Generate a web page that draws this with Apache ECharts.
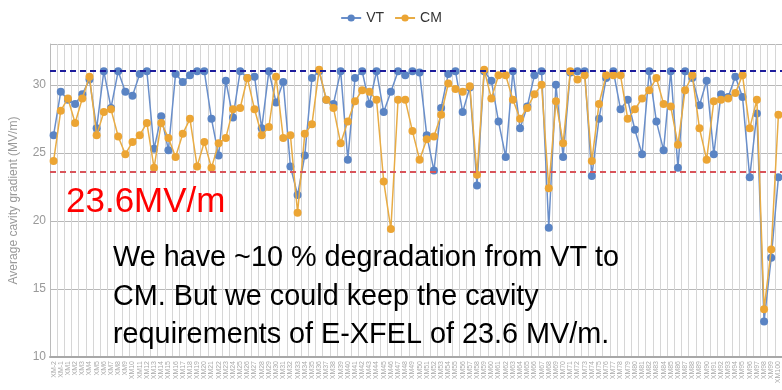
<!DOCTYPE html>
<html>
<head>
<meta charset="utf-8">
<script src="https://cdn.jsdelivr.net/npm/echarts@6/dist/echarts.min.js"></script>
<style>
html,body{margin:0;padding:0;background:#fff;}
#chart{width:782px;height:390px;}
</style>
</head>
<body>
<div id="chart"></div>
<script>
const categories = ['XM-2','XM-1','XM1','XM2','XM3','XM4','XM5','XM6','XM7','XM8','XM9','XM10',
'XM11','XM12','XM13','XM14','XM15','XM16','XM17','XM18','XM19','XM20',
'XM21','XM22','XM23','XM24','XM25','XM26','XM27','XM28','XM29','XM30',
'XM31','XM32','XM33','XM34','XM35','XM36','XM37','XM38','XM39','XM40',
'XM41','XM42','XM43','XM44','XM45','XM46','XM47','XM48','XM49','XM50',
'XM51','XM52','XM53','XM54','XM55','XM56','XM57','XM58','XM59','XM60',
'XM61','XM62','XM63','XM64','XM65','XM66','XM67','XM68','XM69','XM70',
'XM71','XM72','XM73','XM74','XM75','XM76','XM77','XM78','XM79','XM80',
'XM81','XM82','XM83','XM84','XM85','XM86','XM87','XM88','XM89','XM90',
'XM91','XM92','XM93','XM94','XM95','XM96','XM97','XM98','XM99','XM100'];

const vtValues = [26.3,29.5,28.9,28.6,29.3,30.4,26.8,31.0,28.3,31.0,
29.5,29.2,30.8,31.0,25.3,27.7,25.2,30.8,30.2,30.7,
31.0,31.0,27.5,24.8,30.3,27.6,31.0,30.5,30.6,26.8,
31.0,28.7,30.2,24.0,21.9,24.8,30.5,31.0,28.9,28.6,
31.0,24.5,30.5,31.0,28.6,31.0,28.0,29.5,31.0,30.7,
31.0,30.9,26.3,23.7,28.3,30.8,31.0,28.0,29.8,22.6,
31.0,30.3,27.3,24.7,31.0,26.8,28.4,30.7,31.0,19.5,
30.0,24.7,30.9,31.0,31.0,23.3,27.5,30.5,31.0,28.2,
28.9,26.7,24.9,31.0,27.3,25.2,31.0,23.9,31.0,30.5,
28.5,30.3,24.9,29.3,29.1,30.6,29.1,23.2,27.9,12.6,
17.3,23.2];

const cmValues = [24.4,28.1,29.0,27.2,29.0,30.6,26.3,28.0,28.2,26.2,
24.9,25.8,26.3,27.2,23.9,27.2,26.1,24.7,26.4,27.5,
24.0,25.8,23.9,25.7,26.1,28.2,28.3,30.5,28.2,26.3,
26.9,30.6,26.1,26.3,20.6,26.4,27.1,31.1,28.9,28.3,
25.7,27.3,28.8,29.6,29.5,28.9,22.9,19.4,28.9,28.9,
26.6,24.5,26.0,26.2,27.8,30.1,29.7,29.5,29.9,23.4,
31.1,29.0,30.7,30.7,28.9,27.5,28.3,29.3,30.0,22.4,
28.8,25.7,31.0,30.4,30.7,24.4,28.6,30.7,30.7,30.7,
27.5,28.2,29.0,29.6,30.5,28.6,28.4,25.6,29.6,30.7,
26.8,24.5,28.8,28.9,29.0,29.4,30.7,26.8,28.9,13.5,
17.9,27.8];

const vtLevel = 31.0;
const xfelSpec = 23.6;
const yMin = 10, yMax = 33, yStep = 5;

const seriesNames = ['VT', 'CM'];
const specLabel = '23.6MV/m';
const noteLines = ['We have ~10 % degradation from VT to',
                   'CM. But we could keep the cavity',
                   'requirements of E-XFEL of 23.6 MV/m.'];

const chart = echarts.init(document.getElementById('chart'), null, {renderer: 'canvas'});
const narrow = "'Liberation Sans Narrow','Liberation Sans',Arial,sans-serif";
const bodyFont = "'Liberation Sans',Arial,sans-serif";

chart.setOption({
  animation: false,
  backgroundColor: '#ffffff',
  legend: {
    data: seriesNames,
    top: 6,
    left: 'center',
    itemWidth: 20,
    itemHeight: 9,
    itemGap: 10,
    textStyle: {fontFamily: narrow, fontSize: 14, color: '#333'}
  },
  grid: {left: 49, top: 44, width: 733, height: 313, containLabel: false},
  xAxis: {
    type: 'category',
    data: categories,
    boundaryGap: true,
    axisLine: {show: true, lineStyle: {color: '#a8a8a8', width: 2}},
    axisTick: {show: false},
    splitLine: {show: true, interval: 0, lineStyle: {color: '#d6d6d6', width: 1}},
    axisLabel: {interval: 0, rotate: 90, fontSize: 7, color: '#aaa', margin: 4, fontFamily: narrow}
  },
  yAxis: {
    type: 'value',
    min: yMin, max: yMax, interval: yStep,
    name: 'Average cavity gradient (MV/m)',
    nameLocation: 'middle',
    nameGap: 30,
    nameTextStyle: {fontSize: 12, color: '#999', fontFamily: bodyFont},
    axisLine: {show: true, lineStyle: {color: '#bbb', width: 1}},
    axisTick: {show: false},
    axisLabel: {showMaxLabel: false, fontSize: 12, color: '#999', margin: 4, fontFamily: narrow},
    splitLine: {show: true, lineStyle: {color: '#b8b8b8', width: 1}}
  },
  series: [
    {
      name: 'VT', type: 'line', data: vtValues,
      symbol: 'circle', symbolSize: 8,
      itemStyle: {color: '#5a84c4'},
      lineStyle: {color: '#6a8fca', width: 1.5},
      markLine: {
        silent: true, symbol: 'none', label: {show: false},
        data: [
          {yAxis: vtLevel, lineStyle: {color: '#1d1d9c', type: [6, 4], width: 2}},
          {yAxis: xfelSpec, lineStyle: {color: '#d9545a', type: [6, 4], width: 2}}
        ]
      },
      z: 3
    },
    {
      name: 'CM', type: 'line', data: cmValues,
      symbol: 'circle', symbolSize: 8,
      itemStyle: {color: '#eca534'},
      lineStyle: {color: '#e8ac45', width: 1.5},
      z: 4
    }
  ],
  graphic: [
    {type: 'text', left: 66, top: 185, z: 100,
     style: {text: specLabel, fill: '#ff0000', font: "35px " + bodyFont}},
    {type: 'text', left: 113, top: 244, z: 100,
     style: {text: noteLines[0], fill: '#000', font: "28.8px " + bodyFont}},
    {type: 'text', left: 113, top: 283, z: 100,
     style: {text: noteLines[1], fill: '#000', font: "28.8px " + bodyFont}},
    {type: 'text', left: 113, top: 321, z: 100,
     style: {text: noteLines[2], fill: '#000', font: "28.8px " + bodyFont}}
  ]
});
</script>
</body>
</html>
